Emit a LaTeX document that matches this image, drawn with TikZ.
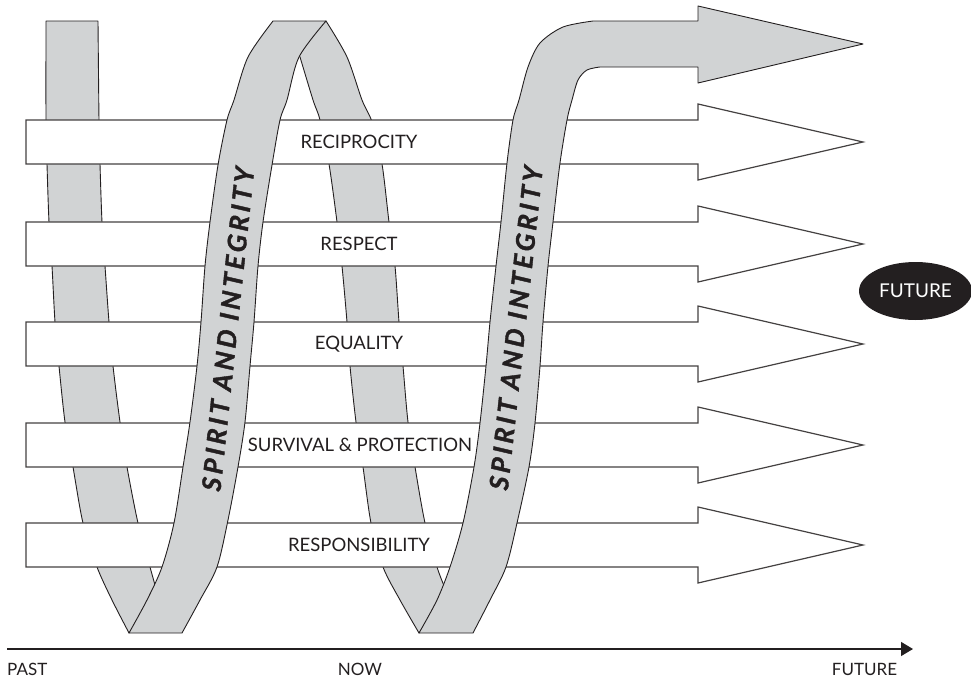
\documentclass[tikz,border=0pt]{standalone}
\usepackage{fontspec}
\setmainfont{Lato}
\newfontfamily\spiritfont[LetterSpace=14,FakeBold=1.5]{Lato}
\usetikzlibrary{arrows.meta,shapes.geometric}
\definecolor{ribbon}{RGB}{209,211,212}
\definecolor{ink}{RGB}{35,31,32}
\begin{document}
\begin{tikzpicture}[x=1pt,y=-1pt,
  band/.style={fill=ribbon, draw=ink, line width=0.9pt, line join=round},
  valarrow/.style={fill=white, draw=ink!85, line width=1.2pt},
  vallabel/.style={font=\fontsize{18.5}{20}\selectfont, text=ink, inner sep=0pt},
  spirit/.style={font=\spiritfont\bfseries\itshape\fontsize{26}{28}\selectfont, text=ink, inner sep=0pt},
  axislabel/.style={font=\fontsize{17}{19}\selectfont, text=ink, inner sep=0pt}]
\useasboundingbox (0,0) rectangle (971,680);

% back strands (behind the value arrows)
\filldraw[band] plot[smooth,tension=0.5] coordinates {(46,21) (46,120) (47,164) (49,222) (52,266) (55,322) (59,366) (65,422) (73,467) (83,523) (97,567) (112,600) (129,633)}
  -- (170,600) -- plot[smooth,tension=0.5] coordinates {(155,585) (150,567) (138,523) (127,467) (120,422) (113,366) (109,322) (105,266) (102,222) (100,164) (99,120) (98,21)} -- cycle;
\filldraw[band] plot[smooth,tension=0.5] coordinates {(326,21) (347,57) (362,100) (372,122) (382,164) (389,222) (395,266) (399,322) (403,366) (408,422) (415,467) (425,523) (437,567) (445,588)}
  -- (455,605) -- plot[smooth,tension=0.5] coordinates {(419,633) (400,600) (383,567) (371,523) (363,467) (356,422) (350,366) (347,322) (342,266) (337,222) (329,164) (320,120) (313,100) (300,57)} -- (292,45) -- cycle;

% value arrows
\foreach \c in {142,244,344,445,545}{
  \filldraw[valarrow] (26,\c-22) -- (698,\c-22) -- (698,\c-38) -- (863,\c) -- (698,\c+38) -- (698,\c+22) -- (26,\c+22) -- cycle;
}
\node[vallabel] (reciprocity) at (359,142) {RECIPROCITY};
\node[vallabel] (respect) at (359,244) {RESPECT};
\node[vallabel] (equality) at (359,344) {EQUALITY};
\node[vallabel] (survival) at (360,445) {SURVIVAL \& PROTECTION};
\node[vallabel] (responsibility) at (359,545) {RESPONSIBILITY};

% front strands
\filldraw[band] plot[smooth,tension=0.5] coordinates {(129,633) (147,600) (162,567) (174,523) (183,467) (190,422) (197,366) (201,322) (205,266) (210,222) (218,165) (227,120) (234,100) (248,57) (273,21)}
  -- plot[smooth,tension=0.5] coordinates {(326,21) (299,57) (287,100) (280,120) (272,165) (263,222) (258,266) (254,322) (250,366) (245,422) (238,467) (228,520) (217,567) (200,600) (182,633)} -- cycle;
\filldraw[band] plot[smooth,tension=0.5] coordinates {(419,633) (437,600) (450,567) (463,523) (474,467) (480,423) (486,366) (490,322) (496,266) (501,222) (507,163) (513,120) (519,100) (528,67) (540,43) (563,27) (593,21)}
  -- (698,21) -- (698,6) -- (863,44) -- (698,83) -- (698,67)
  -- plot[smooth,tension=0.5] coordinates {(600,67) (587,70) (578,80) (572,100) (567,120) (560,163) (553,222) (548,266) (543,322) (540,366) (535,423) (529,467) (517,523) (506,567) (490,600) (473,633)} -- cycle;

\node[spirit, rotate=84] (spiritone) at (228,329) {SPIRIT AND INTEGRITY};
\node[spirit, rotate=83.8] (spirittwo) at (516,328) {SPIRIT AND INTEGRITY};

% future oval
\node[ellipse, fill=ink, minimum width=113pt, minimum height=58pt, inner sep=0pt,
  text=white, font=\fontsize{19}{21}\selectfont] (futureoval) at (915.5,291) {FUTURE};

% time axis
\coordinate (pastend) at (7,649);
\coordinate (futureend) at (913,649);
\draw[ink, line width=1.2pt, -{Triangle[length=12pt,width=14pt]}] (pastend) -- (futureend);
\node[axislabel, anchor=west] (past) at (7,669) {PAST};
\node[axislabel] (now) at (360,669) {NOW};
\node[axislabel] (future) at (864.5,669) {FUTURE};
\end{tikzpicture}
\end{document}
